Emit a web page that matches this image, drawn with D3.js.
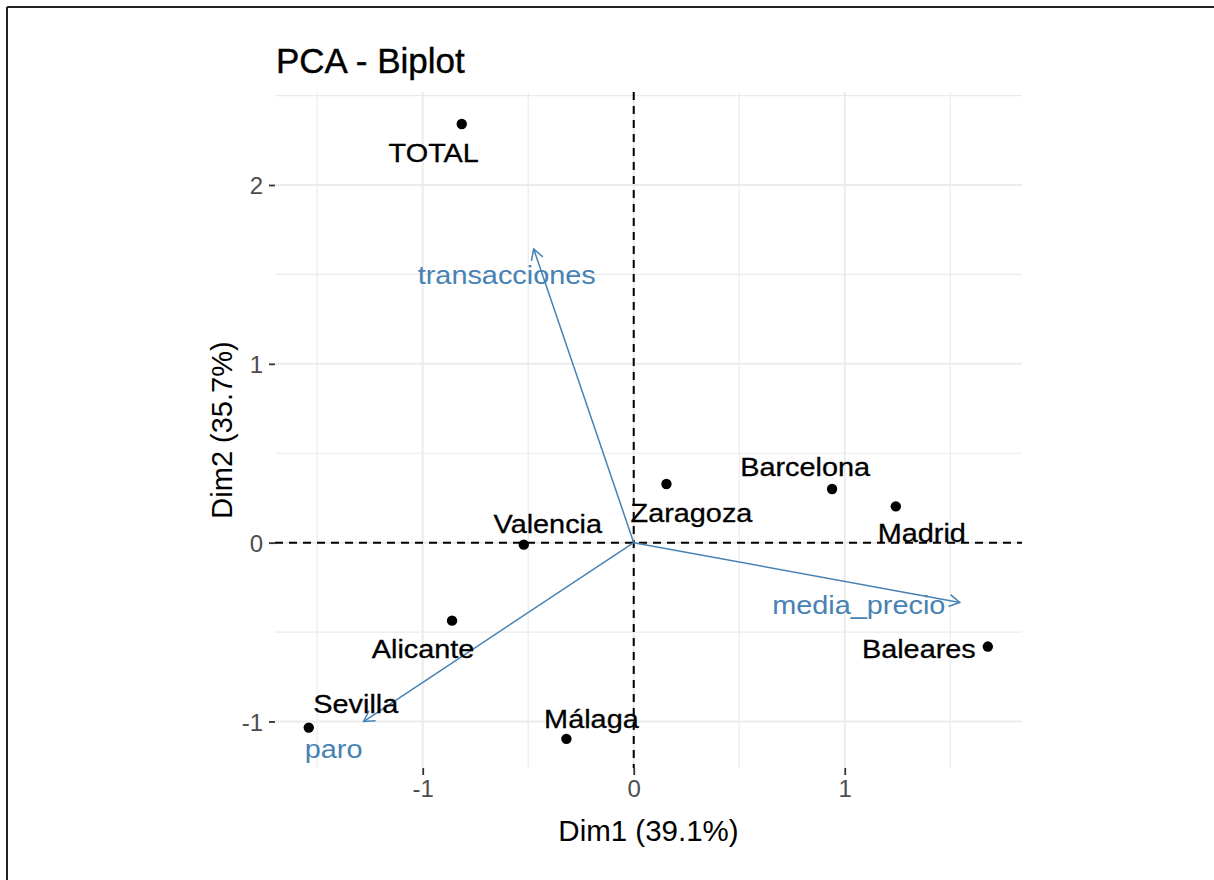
<!DOCTYPE html>
<html>
<head>
<meta charset="utf-8">
<script src="https://cdn.jsdelivr.net/npm/d3@7"></script>
<style>
  html, body { margin: 0; padding: 0; background: #fff; }
  svg { display: block; font-family: "Liberation Sans", Arial, sans-serif; }
</style>
</head>
<body>
<svg id="chart" width="1214" height="880"></svg>
<script>
// ---- data ----
const individuals = ["TOTAL", "Zaragoza", "Barcelona", "Madrid", "Valencia", "Alicante", "Baleares", "Sevilla", "Málaga"];
const indDim1 = [-0.815, 0.155, 0.940, 1.242, -0.521, -0.861, 1.678, -1.540, -0.319];
const indDim2 = [2.341, 0.328, 0.300, 0.203, -0.011, -0.436, -0.581, -1.034, -1.097];

const variables = ["transacciones", "media_precio", "paro"];
const varDim1 = [-0.474, 1.545, -1.280];
const varDim2 = [1.642, -0.334, -1.000];

const xTicks = [-1, 0, 1];
const yTicks = [-1, 0, 1, 2];
const xMinor = [-1.5, -0.5, 0.5, 1.5];
const yMinor = [-0.5, 0.5, 1.5, 2.5];

const titleText = "PCA - Biplot";
const xTitle = "Dim1 (39.1%)";
const yTitle = "Dim2 (35.7%)";

// ---- layout (repelled label offsets in px: centre dx, baseline dy) ----
const indLabelOffset = [[-28, 38], [25, 38], [-27, -13], [26, 36], [24, -12], [-29, 37], [-69, 11], [47, -15], [25, -11]];
const varLabelOffset = [[-27, 35], [-101, 12], [-30, 36]];

const panel = { left: 275, right: 1022, top: 92, bottom: 768 };
const x = d3.scaleLinear().domain([-1.70, 1.84]).range([panel.left, panel.right]);
const y = d3.scaleLinear().domain([-1.26, 2.52]).range([panel.bottom, panel.top]);

const svg = d3.select("#chart");
const steel = "#4682B4";
const labelSize = 26, stretch = 1.11;

// frame
svg.append("line").attr("x1", 7).attr("x2", 1214).attr("y1", 7).attr("y2", 7)
  .attr("stroke", "#222").attr("stroke-width", 2);
svg.append("line").attr("x1", 7).attr("x2", 7).attr("y1", 7).attr("y2", 880)
  .attr("stroke", "#222").attr("stroke-width", 2);

// grid
const grid = svg.append("g");
grid.selectAll(".vmin").data(xMinor).join("line")
  .attr("x1", d => x(d)).attr("x2", d => x(d)).attr("y1", panel.top).attr("y2", panel.bottom)
  .attr("stroke", "#EBEBEB").attr("stroke-width", 1.2);
grid.selectAll(".hmin").data(yMinor).join("line")
  .attr("y1", d => y(d)).attr("y2", d => y(d)).attr("x1", panel.left).attr("x2", panel.right)
  .attr("stroke", "#EBEBEB").attr("stroke-width", 1.2);
grid.selectAll(".vmaj").data(xTicks).join("line")
  .attr("x1", d => x(d)).attr("x2", d => x(d)).attr("y1", panel.top).attr("y2", panel.bottom)
  .attr("stroke", "#EBEBEB").attr("stroke-width", 2);
grid.selectAll(".hmaj").data(yTicks).join("line")
  .attr("y1", d => y(d)).attr("y2", d => y(d)).attr("x1", panel.left).attr("x2", panel.right)
  .attr("stroke", "#EBEBEB").attr("stroke-width", 2);

// axes via d3 axis
const xAxis = svg.append("g").attr("transform", `translate(0,${panel.bottom})`)
  .call(d3.axisBottom(x).tickValues(xTicks).tickSize(7).tickPadding(5).tickFormat(d3.format("d")));
const yAxis = svg.append("g").attr("transform", `translate(${panel.left},0)`)
  .call(d3.axisLeft(y).tickValues(yTicks).tickSize(6).tickPadding(6).tickFormat(d3.format("d")));
[xAxis, yAxis].forEach(a => {
  a.select(".domain").remove();
  a.selectAll(".tick line").attr("stroke", "#333").attr("stroke-width", 1.8);
  a.selectAll(".tick text").attr("fill", "#4D4D4D")
    .style("font-family", "'Liberation Sans', Arial, sans-serif").style("font-size", "24px");
});
xAxis.selectAll(".tick text").text(d => d < 0 ? "-" + Math.abs(d) : d);
yAxis.selectAll(".tick text").text(d => d < 0 ? "-" + Math.abs(d) : d).attr("dy", "0.36em");

// dashed reference lines
svg.append("line").attr("x1", x(0)).attr("x2", x(0)).attr("y1", panel.top).attr("y2", panel.bottom)
  .attr("stroke", "#000").attr("stroke-width", 2).attr("stroke-dasharray", "8,6");
svg.append("line").attr("y1", y(0)).attr("y2", y(0)).attr("x1", panel.left).attr("x2", panel.right)
  .attr("stroke", "#000").attr("stroke-width", 2).attr("stroke-dasharray", "8,6");

// variable arrows
const vars = variables.map((v, i) => ({ name: v, d1: varDim1[i], d2: varDim2[i], off: varLabelOffset[i] }));
const va = svg.append("g");
va.selectAll("line.arrow").data(vars).join("line")
  .attr("x1", x(0)).attr("y1", y(0)).attr("x2", d => x(d.d1)).attr("y2", d => y(d.d2))
  .attr("stroke", steel).attr("stroke-width", 1.5);
va.selectAll("path.head").data(vars).join("path")
  .attr("d", d => {
    const tx = x(d.d1), ty = y(d.d2);
    const a = Math.atan2(ty - y(0), tx - x(0));
    const L = 12, h = Math.PI / 6;
    const p1 = [tx - L * Math.cos(a - h), ty - L * Math.sin(a - h)];
    const p2 = [tx - L * Math.cos(a + h), ty - L * Math.sin(a + h)];
    return `M${p1[0]},${p1[1]}L${tx},${ty}L${p2[0]},${p2[1]}`;
  })
  .attr("fill", "none").attr("stroke", steel).attr("stroke-width", 1.5);

// individuals
const inds = individuals.map((n, i) => ({ name: n, d1: indDim1[i], d2: indDim2[i], off: indLabelOffset[i] }));
svg.append("g").selectAll("circle").data(inds).join("circle")
  .attr("cx", d => x(d.d1)).attr("cy", d => y(d.d2)).attr("r", 5.2).attr("fill", "#000");

svg.append("g").selectAll("text").data(inds).join("text")
  .attr("transform", d => `translate(${x(d.d1) + d.off[0]},${y(d.d2) + d.off[1]}) scale(${stretch},1)`)
  .attr("text-anchor", "middle").style("font-size", labelSize + "px").attr("fill", "#000")
  .attr("stroke", "#000").attr("stroke-width", 0.3)
  .text(d => d.name);

svg.append("g").selectAll("text").data(vars).join("text")
  .attr("transform", d => `translate(${x(d.d1) + d.off[0]},${y(d.d2) + d.off[1]}) scale(${stretch},1)`)
  .attr("text-anchor", "middle").style("font-size", labelSize + "px").attr("fill", steel)
  .text(d => d.name);

// titles
svg.append("text").attr("x", panel.left + 1).attr("y", 73).style("font-size", "35px").attr("fill", "#000")
  .attr("stroke", "#000").attr("stroke-width", 0.4)
  .text(titleText);
svg.append("text").attr("x", (panel.left + panel.right) / 2).attr("y", 841).attr("text-anchor", "middle")
  .style("font-size", "29.5px").attr("fill", "#000").text(xTitle);
svg.append("text").attr("transform", `translate(232,${(panel.top + panel.bottom) / 2}) rotate(-90)`)
  .attr("text-anchor", "middle").style("font-size", "29px").attr("fill", "#000").text(yTitle);
</script>
</body>
</html>
